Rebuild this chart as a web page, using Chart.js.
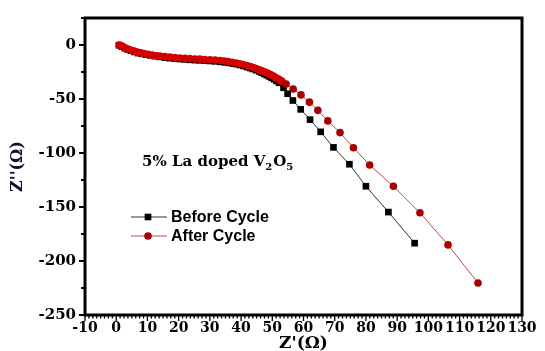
<!DOCTYPE html>
<html><head><meta charset="utf-8">
<script src="https://cdn.jsdelivr.net/npm/chart.js@4.4.0/dist/chart.umd.min.js"></script>
<style>html,body{margin:0;padding:0;background:#fff;}#wrap{position:relative;width:545px;height:351px;}</style>
</head><body><div id="wrap"><canvas id="c" width="545" height="351"></canvas></div>
<script>
// ---- data ----
const beforeX = [0.9,1.8,2.8,3.7,4.7,5.8,7.0,8.2,9.5,10.9,12.4,14.0,15.6,17.2,18.8,20.4,22.0,23.6,25.2,26.8,28.4,30.0,31.7,33.3,34.9,36.2,37.4,38.6,39.7,40.8,41.9,42.9,43.8,44.8,45.8,46.6,47.4,48.2,49.0,49.8,50.6,51.4,52.2,53.6,54.9,56.6,59.1,62.1,65.5,69.6,74.7,80.0,87.2,95.6];
const beforeY = [-0.2,-1.5,-3.0,-4.1,-5.25,-6.4,-7.5,-8.2,-8.9,-9.6,-10.3,-11.0,-11.7,-12.2,-12.6,-13.0,-13.3,-13.7,-14.0,-14.2,-14.4,-14.8,-15.1,-15.6,-16.1,-16.6,-17.2,-17.8,-18.5,-19.4,-20.4,-21.3,-22.2,-23.3,-24.5,-25.6,-26.8,-27.9,-29.1,-30.4,-31.8,-33.4,-35.0,-39.6,-45.1,-51.4,-59.6,-69.1,-80.4,-94.8,-110.4,-130.8,-154.7,-183.5];
const afterX = [0.9,1.5,2.2,3.1,3.9,4.7,5.7,6.7,7.8,8.9,10.2,11.5,12.8,14.0,15.6,17.2,18.8,20.4,22.0,23.6,25.2,26.8,28.4,30.1,31.7,33.3,34.6,35.8,37.1,38.4,39.5,40.6,41.8,42.9,43.9,44.8,45.8,46.7,47.7,48.6,49.4,50.2,51.0,51.8,52.5,53.1,54.4,56.7,59.2,61.9,64.6,67.8,71.7,76.0,81.2,88.8,97.3,106.3,115.9];
const afterY = [0.0,-0.6,-1.7,-3.0,-3.9,-4.8,-5.7,-6.6,-7.3,-8.0,-8.7,-9.4,-9.9,-10.3,-10.8,-11.2,-11.7,-12.1,-12.4,-12.6,-12.9,-13.1,-13.4,-13.7,-14.0,-14.4,-14.8,-15.3,-16.0,-16.7,-17.4,-18.1,-19.0,-19.9,-20.8,-21.8,-22.9,-24.0,-25.1,-26.3,-27.4,-28.6,-30.0,-31.4,-32.5,-33.7,-36.1,-40.7,-46.2,-52.9,-60.5,-70.3,-81.1,-95.1,-111.1,-130.8,-155.3,-185.1,-220.4];
const seriesNames = ['Before Cycle','After Cycle'];
const xTicks = [-10,0,10,20,30,40,50,60,70,80,90,100,110,120,130];
const yTicks = [0,-50,-100,-150,-200,-250];
const xTitle = "Z'(\u03A9)";
const yTitle = "Z''(\u03A9)";
const noteMain = ['5% La doped V','2','O','5'];

const BLACK = '#000000', LINE_BLACK = '#333333', RED = '#a80000', RED_DENSE = '#d20000', LINE_RED = '#bb4a4a';
const SERIF = "'DejaVu Serif', serif";
const DENSE_COUNT = 46;

const decor = {
  id: 'decor',
  afterDraw(chart) {
    const ctx = chart.ctx, a = chart.chartArea, xs = chart.scales.x, ys = chart.scales.y;
    ctx.save();
    ctx.strokeStyle = '#000';
    ctx.lineWidth = 2;
    for (let v = -250; v <= 25; v += 25) {
      const p = Math.round(ys.getPixelForValue(v));
      const len = (v % 50 === 0) ? 6 : 4;
      ctx.beginPath(); ctx.moveTo(a.left, p); ctx.lineTo(a.left - len, p); ctx.stroke();
    }
    ctx.lineWidth = 1.3;
    for (let k = 0; k <= 112; k++) {
      const v = -10 + k * 1.25;
      const p = xs.getPixelForValue(v);
      const len = (k % 8 === 0) ? 6 : 3.5;
      ctx.beginPath(); ctx.moveTo(p, a.bottom); ctx.lineTo(p, a.bottom + len); ctx.stroke();
    }
    ctx.lineWidth = 3;
    ctx.strokeRect(a.left, a.top, a.right - a.left, a.bottom - a.top);
    // legend
    const ds = chart.data.datasets;
    const lx0 = 131, lx1 = 167, mx = 148, tx = 171;
    const rows = [217, 236];
    const fills = [BLACK, RED];
    ctx.font = "bold 16px 'Liberation Sans', Arial, sans-serif";
    ctx.textBaseline = 'middle';
    ctx.textAlign = 'left';
    rows.forEach((yy, i) => {
      ctx.strokeStyle = ds[i].borderColor; ctx.lineWidth = 1.2;
      ctx.beginPath(); ctx.moveTo(lx0, yy); ctx.lineTo(lx1, yy); ctx.stroke();
      ctx.fillStyle = fills[i];
      if (ds[i].pointStyle === 'rect') {
        const s = ds[i].pointRadius * Math.SQRT1_2;
        ctx.fillRect(mx - s, yy - s, 2 * s, 2 * s);
      } else {
        ctx.beginPath(); ctx.arc(mx, yy, ds[i].pointRadius, 0, Math.PI * 2); ctx.fill();
      }
      ctx.fillStyle = '#000';
      ctx.fillText(ds[i].label, tx, yy + 1);
    });
    // annotation
    ctx.textBaseline = 'alphabetic';
    let x = 142; const base = 166;
    const big = "bold 15px " + SERIF, small = "bold 10px " + SERIF;
    noteMain.forEach((t, i) => {
      const sub = (i % 2 === 1);
      ctx.font = sub ? small : big;
      ctx.fillText(t, x, sub ? base + 4 : base);
      x += ctx.measureText(t).width + (sub ? 1 : 0);
    });
    ctx.restore();
  }
};

const redFill = c => (c.dataIndex < DENSE_COUNT ? RED_DENSE : RED);

new Chart(document.getElementById('c'), {
  type: 'scatter',
  data: {
    datasets: [
      { label: seriesNames[0], data: beforeX.map((x, i) => ({ x, y: beforeY[i] })), showLine: true,
        borderColor: LINE_BLACK, borderWidth: 1, pointStyle: 'rect', pointRadius: 4.7,
        pointBackgroundColor: BLACK, pointBorderColor: BLACK, pointBorderWidth: 0, order: 1 },
      { label: seriesNames[1], data: afterX.map((x, i) => ({ x, y: afterY[i] })), showLine: true,
        borderColor: LINE_RED, borderWidth: 1, pointStyle: 'circle', pointRadius: 3.8,
        pointBackgroundColor: redFill, pointBorderColor: redFill, pointBorderWidth: 0, order: 0 }
    ]
  },
  options: {
    responsive: false, animation: false, devicePixelRatio: 1,
    layout: { padding: { left: 0, right: 23, top: 15, bottom: 0 } },
    plugins: { legend: { display: false }, tooltip: { enabled: false } },
    scales: {
      x: {
        type: 'linear', min: -10, max: 130,
        afterFit(s) { s.height = 36; },
        afterBuildTicks(s) { s.ticks = xTicks.map(v => ({ value: v })); },
        grid: { display: false, drawTicks: false }, border: { display: false },
        ticks: { color: '#000', font: { family: SERIF, weight: 'bold', size: 14 }, padding: 5, maxRotation: 0, autoSkip: false },
        title: { display: true, text: xTitle, color: '#000', font: { family: SERIF, weight: 'bold', size: 17 }, padding: { top: 0, bottom: -3 } }
      },
      y: {
        type: 'linear', min: -250, max: 25,
        afterFit(s) { s.width = 85; },
        afterBuildTicks(s) { s.ticks = yTicks.map(v => ({ value: v })); },
        grid: { display: false, drawTicks: false }, border: { display: false },
        ticks: { color: '#000', font: { family: SERIF, weight: 'bold', size: 15 }, padding: 9, autoSkip: false },
        title: { display: true, text: yTitle, color: '#101030', font: { family: SERIF, weight: 'bold', size: 16 }, padding: { top: 8, bottom: 0 } }
      }
    }
  },
  plugins: [decor]
});
</script></body></html>
